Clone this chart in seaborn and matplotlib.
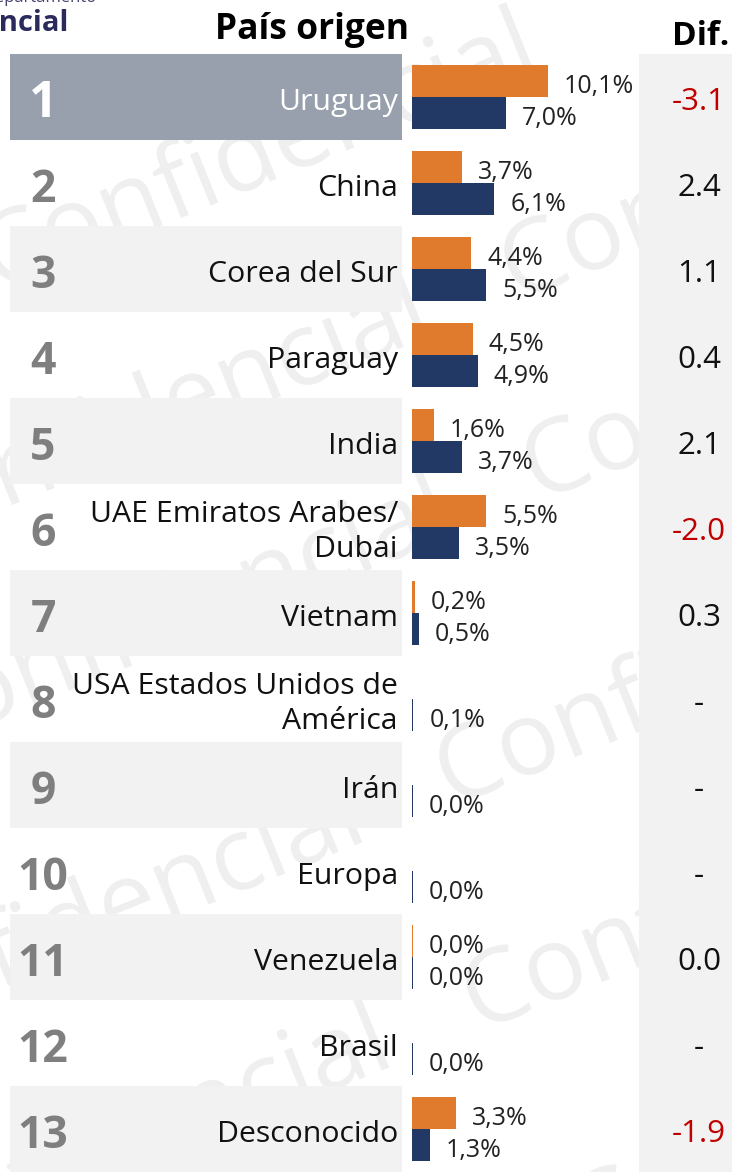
import numpy as np
import pandas as pd
import matplotlib
matplotlib.use("Agg")
import matplotlib.pyplot as plt
from matplotlib.patches import Rectangle
import seaborn as sns

# Datos
countries = ["Uruguay", "China", "Corea del Sur", "Paraguay", "India",
             "UAE Emiratos Arabes/\nDubai", "Vietnam",
             "USA Estados Unidos de\nAmérica", "Irán", "Europa",
             "Venezuela", "Brasil", "Desconocido"]
periodo_ant = [10.1, 3.7, 4.4, 4.5, 1.6, 5.5, 0.2, np.nan, np.nan, np.nan, 0.04, np.nan, 3.3]
periodo_act = [7.0, 6.1, 5.5, 4.9, 3.7, 3.5, 0.5, 0.1, 0.04, 0.04, 0.04, 0.04, 1.3]
dif_labels = ["-3.1", "2.4", "1.1", "0.4", "2.1", "-2.0", "0.3", "-", "-", "-", "0.0", "-", "-1.9"]
periods = ["Periodo anterior", "Periodo actual"]

ORANGE = "#E07A2C"
NAVY = "#213964"
RED = "#C00000"

sns.set_style("white")
plt.rcParams['font.family'] = ['Open Sans', 'DejaVu Sans']

# pixel geometry of the layout
W, H = 732, 1172
TOP = 54
ROW = 86
PPU = 13.47   # pixels per percentage point
X0 = 412


def xd(px):
    return (px - X0) / PPU


def yd(py):
    return (py - TOP) / ROW - 0.5


n = len(countries)
df = pd.DataFrame({
    'pais': countries * 2,
    'periodo': [periods[0]] * n + [periods[1]] * n,
    'valor': periodo_ant + periodo_act,
}).dropna()

fig = plt.figure(figsize=(W / 100, H / 100), dpi=100)
ax = fig.add_axes([0, 0, 1, (H - TOP) / H])

sns.barplot(data=df, y='pais', x='valor', hue='periodo', order=countries,
            hue_order=periods, palette=[ORANGE, NAVY], orient='h',
            width=0.744, dodge=True, legend=False, saturation=1,
            errorbar=None, linewidth=0, ax=ax)

ax.set_xlim(xd(0), xd(W))
ax.set_ylim(n - 0.5, -0.5)
ax.set_axis_off()

# value labels next to each bar
for bar in list(ax.patches):
    w = bar.get_width()
    if np.isnan(w):
        continue
    bar.set_zorder(2)
    y = bar.get_y() + bar.get_height() / 2
    ax.annotate(f"{w:.1f}%".replace('.', ','), (w, y), xytext=(11.5, -4),
                textcoords='offset points', ha='left', va='center',
                fontsize=18, color='#222222', zorder=3)

# row backgrounds
for i in range(n):
    if i == 0:
        c = '#98A0AD'
    elif i % 2 == 0:
        c = '#F2F2F2'
    else:
        continue
    ax.add_patch(Rectangle((xd(10), i - 0.5), xd(402) - xd(10), 1,
                           facecolor=c, edgecolor='none', zorder=0.6))

# Dif column background
ax.add_patch(Rectangle((xd(639), -0.5), xd(W + 5) - xd(639), n,
                       facecolor='#F2F2F2', edgecolor='none', zorder=0.6))

# row numbers, names and differences
for i, name in enumerate(countries):
    first = i == 0
    ax.text(xd(43), i + 0.087, str(i + 1), ha='center', va='center',
            fontsize=36 if first else 32, fontweight='bold',
            color='white' if first else '#7F7F7F', zorder=3)
    ax.text(xd(398), i + 0.06, name, ha='right', va='center', fontsize=21.8,
            linespacing=1.3, color='white' if first else '#111111', zorder=3)
    s = dif_labels[i]
    ax.text(xd(699), i + 0.06, s, ha='center', va='center', fontsize=22.5,
            color=RED if (s.startswith('-') and len(s) > 1) else '#111111',
            zorder=3)

# headers
ax.text(xd(409), yd(39), 'País origen', ha='right', va='baseline',
        fontsize=25.5, fontweight='bold', color='black')
ax.text(xd(729), yd(45), 'Dif.', ha='right', va='baseline',
        fontsize=24, fontweight='bold', color='black')

# cut-off logo text at top left
ax.text(xd(69), yd(31), 'Confidencial', ha='right', va='baseline',
        fontsize=21, fontweight='bold', color='#2B2A5C')
ax.text(xd(97), yd(2), 'Departamento', ha='right', va='baseline',
        fontsize=12, color='#44446E')

# watermark
ang = 22
wm = dict(rotation=ang, rotation_mode='anchor', va='baseline', fontsize=74,
          color='black', alpha=0.065, zorder=0.5)
ax.text(xd(-5), yd(290), 'Confidencial', ha='left', **wm)
for xs, ys in [(515, 300), (537, 500), (450, 805), (477, 1030), (585, 1250)]:
    ax.text(xd(xs), yd(ys), 'Confidencial', ha='left', **wm)
    g = 85
    ax.text(xd(xs - g * np.cos(np.radians(ang))), yd(ys + g * np.sin(np.radians(ang))),
            'Confidencial', ha='right', **wm)

fig.savefig('out.png', dpi=100)
